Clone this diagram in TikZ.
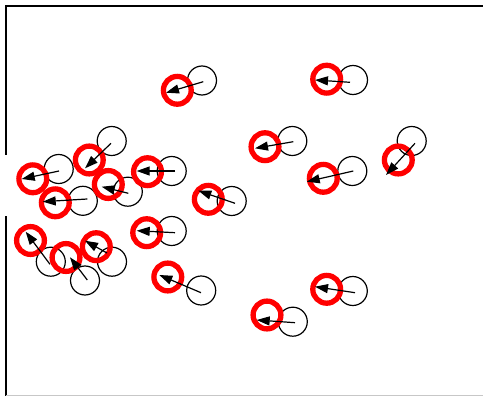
\documentclass[tikz,border=0pt]{standalone}
\usetikzlibrary{arrows.meta}
\begin{document}
\begin{tikzpicture}[x=1pt,y=-1pt,
  oldpos/.style={circle,draw=black,line width=1.2pt,minimum size=29pt,inner sep=0pt},
  newpos/.style={circle,draw=red,line width=5.3pt,minimum size=27.8pt,inner sep=0pt},
  move/.style={draw=black,line width=1.2pt,-{Triangle[length=13pt,width=9pt]}},
  frameline/.style={draw=black,line width=1.5pt}]
\useasboundingbox (0,0) rectangle (483,396);
% frame
\coordinate (fTR) at (483,6);
\coordinate (fTL) at (6,6);
\coordinate (fL1) at (6,155);
\coordinate (fL2) at (6,216.5);
\coordinate (fBL) at (6,396);
\coordinate (gB1) at (6,395.3);
\coordinate (gB2) at (483,395.3);
\draw[frameline] (fTR) -- (fTL) -- (fL1);
\draw[frameline] (fL2) -- (fBL);
\draw[draw=black!22,line width=1pt] (gB1) -- (gB2);
% old positions
\node[oldpos] (bA) at (202,80.5) {};
\node[oldpos] (bB) at (353,80) {};
\node[oldpos] (bC) at (292.3,141) {};
\node[oldpos] (bD) at (411.7,141) {};
\node[oldpos] (bE) at (352.3,171) {};
\node[oldpos] (bF) at (171.7,171) {};
\node[oldpos] (bG) at (231.7,201) {};
\node[oldpos] (bH) at (111.7,141) {};
\node[oldpos] (bI) at (58.7,169) {};
\node[oldpos] (bJ) at (82.8,200.8) {};
\node[oldpos] (bK) at (127.8,191.7) {};
\node[oldpos] (bL) at (171.7,231) {};
\node[oldpos] (bM) at (201.2,290.5) {};
\node[oldpos] (bN) at (352.8,291) {};
\node[oldpos] (bO) at (292.8,321.7) {};
\node[oldpos] (bP) at (50.8,261.7) {};
\node[oldpos] (bQ) at (85,280.5) {};
\node[oldpos] (bR) at (112,261.7) {};
% new positions
\node[newpos] (rA) at (177.3,90.3) {};
\node[newpos] (rB) at (326.7,79.2) {};
\node[newpos] (rC) at (265,146.7) {};
\node[newpos] (rD) at (398.3,160) {};
\node[newpos] (rE) at (323.3,178.3) {};
\node[newpos] (rF) at (147.5,171.7) {};
\node[newpos] (rG) at (208.3,199.3) {};
\node[newpos] (rH) at (89.3,160) {};
\node[newpos] (rI) at (32.8,178.8) {};
\node[newpos] (rJ) at (55.3,202.8) {};
\node[newpos] (rK) at (108.3,184.5) {};
\node[newpos] (rL) at (146.7,232.7) {};
\node[newpos] (rM) at (167.8,277) {};
\node[newpos] (rN) at (326.7,289.3) {};
\node[newpos] (rO) at (267,315) {};
\node[newpos] (rP) at (30.5,240.5) {};
\node[newpos] (rQ) at (66,257.5) {};
\node[newpos] (rR) at (96.3,246.7) {};
% arrow ends
\coordinate (sA) at (203.3,81.7); \coordinate (tA) at (166,92.7);
\coordinate (sB) at (350,82.3);   \coordinate (tB) at (315,80);
\coordinate (sC) at (293.3,141.7);\coordinate (tC) at (255,148.3);
\coordinate (sD) at (415,143.3);  \coordinate (tD) at (386,175);
\coordinate (sE) at (353.3,171);  \coordinate (tE) at (306.7,181.7);
\coordinate (sF) at (175,171);    \coordinate (tF) at (136.7,171);
\coordinate (sG) at (235,203.3);  \coordinate (tG) at (198.3,190.7);
\coordinate (sH) at (111,143.3);  \coordinate (tH) at (85,168.3);
\coordinate (sI) at (59,171);     \coordinate (tI) at (21.7,179);
\coordinate (sJ) at (87.3,199);   \coordinate (tJ) at (42.7,201.7);
\coordinate (sK) at (128.3,193.3);\coordinate (tK) at (101.7,186.7);
\coordinate (sL) at (175,232.7);  \coordinate (tL) at (136.7,230.7);
\coordinate (sM) at (201,292.7);  \coordinate (tM) at (159.3,275);
\coordinate (sN) at (355,292.7);  \coordinate (tN) at (315,286.7);
\coordinate (sO) at (295,322.7);  \coordinate (tO) at (256.7,320);
\coordinate (sP) at (50,264.3);   \coordinate (tP) at (25.7,231.7);
\coordinate (sQ) at (87.3,280);   \coordinate (tQ) at (70,257.3);
\coordinate (sR) at (107,253);    \coordinate (tR) at (85,240.7);
\foreach \k in {A,B,C,D,E,F,G,H,I,J,K,L,M,N,O,P,Q,R}
  \draw[move] (s\k) -- (t\k);
\end{tikzpicture}
\end{document}
